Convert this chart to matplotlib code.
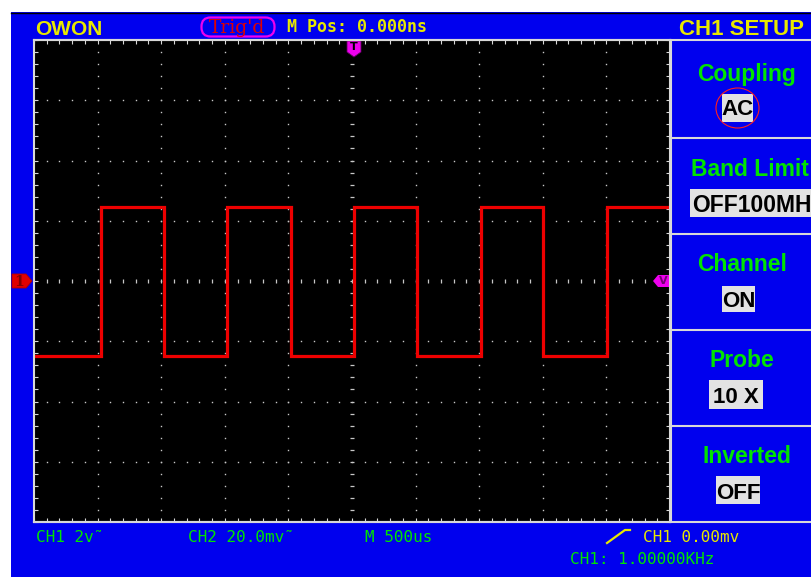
import numpy as np
import matplotlib
matplotlib.use("Agg")
import matplotlib.pyplot as plt
from matplotlib.patches import Rectangle, Polygon, FancyBboxPatch, Ellipse

# ---- data ----
# CH1 square wave, 2 V/div, 500 us/div, edges in microseconds
edge_t = [-2500, -1973, -1478, -979, -480, 16, 511, 1014, 1502, 2005, 2500]
edge_v = [-2.48, 2.47, -2.48, 2.47, -2.48, 2.47, -2.48, 2.47, -2.48, 2.47, 2.47]

volts_per_div = 2.0
us_per_div = 500
n_xdiv, n_ydiv = 10, 8

menu_labels = ["Coupling", "Band Limit", "Channel", "Probe", "Inverted"]
menu_values = ["AC", "OFF100MH", "ON", "10 X", "OFF"]

bottom_left = ["CH1 2v\u02dc", "CH2 20.0mv\u02dc", "M 500us"]
trig_text = "CH1 0.00mv"
freq_text = "CH1: 1.00000KHz"

# ---- colours ----
BLUE = "#0000ee"
YELLOW = "#e8e800"
GREEN = "#00e400"
GRID = "#c8c8c8"
EDGE = "#d8d8d8"
TRACE = "#ee0000"
MAG = "#ee00ee"

W, H = 812, 577
fig = plt.figure(figsize=(W / 100, H / 100), dpi=100)
fig.patch.set_facecolor("white")

# background layer in pixel coordinates
bg = fig.add_axes([0, 0, 1, 1], zorder=0)
bg.set_xlim(0, W)
bg.set_ylim(H, 0)
bg.axis("off")
bg.add_patch(Rectangle((11, 12), W - 11, H - 12, facecolor=BLUE, edgecolor="none"))
bg.plot([11, W], [12.5, 12.5], color="black", lw=1)

# scope screen
gx0, gx1, gy0, gy1 = 34, 670, 40, 522
ax = fig.add_axes([gx0 / W, (H - gy1) / H, (gx1 - gx0) / W, (gy1 - gy0) / H], zorder=1)
ax.set_facecolor("black")
xmax = us_per_div * n_xdiv / 2
ymax = volts_per_div * n_ydiv / 2
ax.set_xlim(-xmax, xmax)
ax.set_ylim(-ymax, ymax)

# minor ticks around the border
ax.set_xticks(np.arange(-xmax, xmax + 1, us_per_div / 5))
ax.set_yticks(np.arange(-ymax, ymax + 0.01, volts_per_div / 5))
ax.tick_params(direction="in", length=3, width=0.8, color=EDGE,
               top=True, bottom=True, left=True, right=True,
               labelbottom=False, labelleft=False)
for s in ax.spines.values():
    s.set_color(EDGE)
    s.set_linewidth(1.5)

# dotted division lines
minor_x = np.arange(-xmax + 100, xmax, us_per_div / 5)
minor_y = np.arange(-ymax + 0.4, ymax, volts_per_div / 5)
for k in range(1, n_xdiv):
    xv = -xmax + k * us_per_div
    if xv == 0:
        ax.plot(np.zeros_like(minor_y), minor_y, ls="none", marker="_",
                ms=2.6, mew=0.9, color=GRID)
    else:
        ax.plot(np.full_like(minor_y, xv), minor_y, ls="none", marker="s",
                ms=1.0, mew=0, color=GRID)
for j in range(1, n_ydiv):
    yv = -ymax + j * volts_per_div
    if yv == 0:
        ax.plot(minor_x, np.zeros_like(minor_x), ls="none", marker="|",
                ms=2.6, mew=0.9, color=GRID)
    else:
        ax.plot(minor_x, np.full_like(minor_x, yv), ls="none", marker="s",
                ms=1.0, mew=0, color=GRID)

ax.plot(edge_t, edge_v, drawstyle="steps-post", color=TRACE, lw=2.3,
        solid_joinstyle="miter")

# overlay layer in pixel coordinates
ov = fig.add_axes([0, 0, 1, 1], zorder=2)
ov.set_xlim(0, W)
ov.set_ylim(H, 0)
ov.axis("off")
ov.patch.set_alpha(0)

# frame lines of the right-hand menu
ov.plot([gx0, W], [gy0, gy0], color=EDGE, lw=1.5)
ov.plot([gx0, W], [gy1, gy1], color=EDGE, lw=1.5)
ov.plot([gx1 + 1, gx1 + 1], [gy0, gy1], color=EDGE, lw=1.5)
for yb in [138, 234, 330, 426]:
    ov.plot([gx1, W], [yb, yb], color=EDGE, lw=1.5)

# top bar
ov.text(35, 35, "OWON", color=YELLOW, fontsize=15, fontweight="bold",
        family="Liberation Sans", va="baseline", ha="left")
ov.add_patch(FancyBboxPatch((203, 19), 70, 16, boxstyle="round,pad=1.5,rounding_size=9",
                            facecolor="none", edgecolor=MAG, lw=1.6))
ov.text(237.5, 33, "Trig'd", color="#e00000", fontsize=13.5, family="DejaVu Serif",
        va="baseline", ha="center")
ov.text(287, 32, "M Pos: 0.000ns", color=YELLOW, fontsize=12, fontweight="bold",
        family="DejaVu Sans Mono", va="baseline", ha="left")
ov.text(679, 35, "CH1 SETUP", color=YELLOW, fontsize=16, fontweight="bold",
        family="Liberation Sans", va="baseline", ha="left")

# menu labels and value boxes
label_x = [747, 691, 742, 742, 747]
label_base = [81, 176, 271, 367, 463]
for lab, lx, lb in zip(menu_labels, label_x, label_base):
    ha = "left" if lab == "Band Limit" else "center"
    ov.text(lx, lb, lab, color=GREEN, fontsize=16.5, fontweight="bold",
            family="Liberation Sans", va="baseline", ha=ha, clip_on=True)

box_rects = [(722, 94, 31, 28), (690, 189, 130, 28), (722, 286, 33, 26),
             (709, 380, 54, 29), (716, 476, 44, 28)]
val_base = [115, 212, 307, 403, 499]
for val, (bx, by, bw, bh), vb in zip(menu_values, box_rects, val_base):
    ov.add_patch(Rectangle((bx, by), bw, bh, facecolor="#e2e2e2", edgecolor="none"))
    if val == "OFF100MH":
        ov.text(692, vb, val, color="black", fontsize=16.5, fontweight="bold",
                family="Liberation Sans", va="baseline", ha="left", clip_on=True)
    else:
        ov.text(bx + bw / 2, vb, val, color="black", fontsize=16, fontweight="bold",
                family="Liberation Sans", va="baseline", ha="center")
ov.add_patch(Ellipse((737.5, 108), 43, 40, facecolor="none", edgecolor="#ff2020", lw=0.8))

# channel / trigger markers
ov.add_patch(Polygon([(12, 274), (26, 274), (32, 281), (26, 288), (12, 288)],
                     closed=True, facecolor="#e00000", edgecolor="#b00000", lw=0.6))
ov.text(19, 282, "1", color="#800000", fontsize=10, fontweight="bold",
        family="DejaVu Serif", ha="center", va="center")
ov.add_patch(Polygon([(347, 41), (361, 41), (361, 52), (354, 57), (347, 52)],
                     closed=True, facecolor=MAG, edgecolor="#600060", lw=0.6))
ov.text(354, 47.5, "T", color="black", fontsize=8, fontweight="bold",
        family="DejaVu Sans", ha="center", va="center")
ov.add_patch(Polygon([(653, 281), (658, 275), (669, 275), (669, 287), (658, 287)],
                     closed=True, facecolor=MAG, edgecolor="none"))
ov.text(663, 281.5, "V", color="#700070", fontsize=8, fontweight="bold",
        family="DejaVu Sans", ha="center", va="center")

# bottom status line
for txt, tx in zip(bottom_left, [36, 188, 365]):
    ov.text(tx, 542, txt, color=GREEN, fontsize=11.5, family="DejaVu Sans Mono",
            va="baseline", ha="left")
ov.plot([607, 625, 630], [543, 530, 530], color=YELLOW, lw=1.6)
ov.text(643, 542, trig_text, color=YELLOW, fontsize=11.5, family="DejaVu Sans Mono",
        va="baseline", ha="left")
ov.text(570, 564, freq_text, color=GREEN, fontsize=11.5, family="DejaVu Sans Mono",
        va="baseline", ha="left")

fig.savefig("out.png", dpi=100, facecolor=fig.get_facecolor())
